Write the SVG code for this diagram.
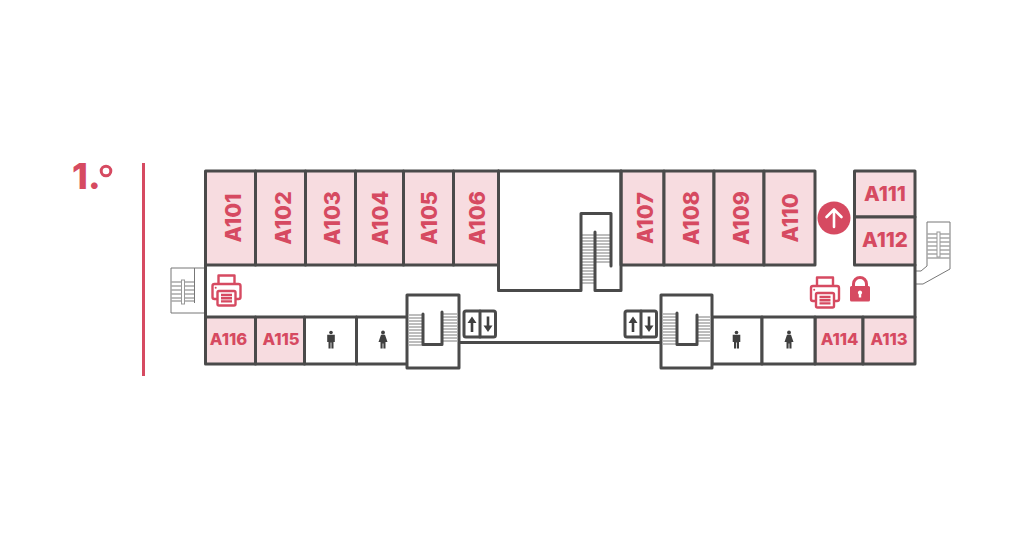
<svg xmlns="http://www.w3.org/2000/svg" width="1024" height="540" viewBox="0 0 1024 540">
<style>
.room{fill:#f7dce0;stroke:#4a4a4a;stroke-width:3;stroke-linejoin:round}
.plain{fill:#fff;stroke:#4a4a4a;stroke-width:3;stroke-linejoin:round}
.wall{fill:none;stroke:#4a4a4a;stroke-width:3;stroke-linejoin:round;stroke-linecap:round}
.thin{fill:none;stroke:#777;stroke-width:1}
.step{fill:none;stroke:#a8a8a8;stroke-width:1.3}
.lab{font-family:"Inter","Liberation Sans",sans-serif;font-weight:800;fill:#d64a61;text-anchor:middle}
.v{font-size:21.500px}.h{font-size:20.500px}.s{font-size:16.500px}
.ic{fill:none;stroke:#d64a61;stroke-width:2.400;stroke-linejoin:round}
.icf{fill:#d64a61}
.dk{fill:#3f3f3f}
</style>
<defs>
<g id="printer">
<path class="ic" d="M-8-6V-14.500H8V-6M-9 9H-12Q-14 9-14 7V-4Q-14-6-12-6H12Q14-6 14-4V7Q14 9 12 9H9"/>
<rect class="ic" x="-9" y="1" width="18" height="14.500" rx="1.500"/>
<path class="ic" stroke-width="1.600" d="M-5.500 5H5.500M-5.500 8.200H5.500M-5.500 11.400H5.500"/>
<circle class="icf" cx="-10.800" cy="-2.300" r="1"/>
</g>
<g id="man" class="dk">
<circle cx="0" cy="-7.500" r="1.800"/>
<path d="M-3.800-5.300H3.800V2H2.500V8.500H.4V2.500H-.4V8.500H-2.500V2H-3.800Z"/>
</g>
<g id="woman" class="dk">
<circle cx="0" cy="-7.500" r="1.900"/>
<path d="M-2-5.300H2L4.500 2H2.500V8.500H.4V3.500H-.4V8.500H-2.500V2H-4.500Z"/>
</g>
<g id="lift">
<rect class="plain" x="0" y="0" width="31.500" height="26" rx="2"/>
<path class="wall" d="M16 0V26"/>
<path class="dk" d="M8 5.500L12.500 12H9.300V21H6.700V12H3.500Z"/>
<path class="dk" d="M24 21L19.500 14.500H22.700V5.500H25.300V14.500H28.500Z"/>
</g>
</defs>

<g id="level">
<text x="72" y="189" font-family="Inter,'Liberation Sans',sans-serif" font-weight="800" font-size="36" fill="#d64a61">1.</text>
<circle cx="106" cy="171" r="4.800" fill="none" stroke="#d64a61" stroke-width="3"/>
<rect x="142" y="163" width="3" height="213" fill="#d64a61"/>
</g>

<g id="outer-stairs">
<path class="thin" d="M205 268H171V313H205M194.500 268V303"/>
<path class="step" d="M171 282H194M171 286H194M171 290H194M171 294H194M171 298H194M171 301H194"/>
<rect x="181.500" y="280" width="3" height="24" fill="#fff" stroke="#999" stroke-width="1"/>
<path class="thin" d="M915 271H921L927 266V222H950V269L923 284H915"/>
<path class="step" d="M927 234H950M927 238H950M927 242H950M927 246H950M927 250H950M927 254H950M927 258H950"/>
<rect x="937" y="232" width="3" height="25" fill="#fff" stroke="#999" stroke-width="1"/>
</g>

<g id="A101"><rect class="room" x="205.500" y="171" width="50" height="94"/><text class="lab v" transform="translate(241,218) rotate(-90)">A101</text></g>
<g id="A102"><rect class="room" x="255.500" y="171" width="50" height="94"/><text class="lab v" transform="translate(291,218) rotate(-90)">A102</text></g>
<g id="A103"><rect class="room" x="305.500" y="171" width="50" height="94"/><text class="lab v" transform="translate(340,218) rotate(-90)">A103</text></g>
<g id="A104"><rect class="room" x="355.500" y="171" width="48" height="94"/><text class="lab v" transform="translate(388,218) rotate(-90)">A104</text></g>
<g id="A105"><rect class="room" x="403.500" y="171" width="50" height="94"/><text class="lab v" transform="translate(437,218) rotate(-90)">A105</text></g>
<g id="A106"><rect class="room" x="453.500" y="171" width="45" height="94"/><text class="lab v" transform="translate(485,218) rotate(-90)">A106</text></g>
<g id="A107"><rect class="room" x="621" y="171" width="43" height="94"/><text class="lab v" transform="translate(652.500,218) rotate(-90)">A107</text></g>
<g id="A108"><rect class="room" x="664" y="171" width="50" height="94"/><text class="lab v" transform="translate(698.500,218) rotate(-90)">A108</text></g>
<g id="A109"><rect class="room" x="714" y="171" width="50" height="94"/><text class="lab v" transform="translate(749,218) rotate(-90)">A109</text></g>
<g id="A110"><rect class="room" x="764" y="171" width="51" height="94"/><text class="lab v" transform="translate(798,218) rotate(-90)">A110</text></g>
<g id="A111"><rect class="room" x="854.500" y="171" width="60.500" height="46"/><text class="lab h" x="885" y="201">A111</text></g>
<g id="A112"><rect class="room" x="854.500" y="217" width="60.500" height="48"/><text class="lab h" x="885" y="247">A112</text></g>
<g id="A116"><rect class="room" x="205.500" y="317" width="50" height="47"/><text class="lab s" x="228.500" y="345">A116</text></g>
<g id="A115"><rect class="room" x="255.500" y="317" width="49" height="47"/><text class="lab s" x="281" y="345">A115</text></g>
<g id="A114"><rect class="room" x="815" y="317" width="48" height="47"/><text class="lab s" x="839.500" y="345">A114</text></g>
<g id="A113"><rect class="room" x="863" y="317" width="52" height="47"/><text class="lab s" x="889" y="345">A113</text></g>

<g id="wc-men-1"><rect class="plain" x="304.500" y="317" width="52" height="47"/><use href="#man" x="331" y="340"/></g>
<g id="wc-women-1"><rect class="plain" x="356.500" y="317" width="51" height="47"/><use href="#woman" x="383" y="340"/></g>
<g id="wc-men-2"><rect class="plain" x="712" y="317" width="50" height="47"/><use href="#man" x="736.500" y="340"/></g>
<g id="wc-women-2"><rect class="plain" x="762" y="317" width="53" height="47"/><use href="#woman" x="789" y="340"/></g>

<g id="walls">
<path class="wall" d="M205.500 265V317M915 265V317M498.500 171H621M459 342.500H661"/>
</g>

<g id="stair-left">
<rect class="plain" x="407" y="295" width="52" height="73"/>
<path class="step" d="M408 315H423M408 318H423M408 321H423M408 324H423M408 327H423M408 330H423M408 333H423M408 336H423M408 339H423M408 342H423M408 345H423M442 314H458M442 317H458M442 320H458M442 323H458M442 326H458M442 329H458M442 332H458M442 335H458M442 338H458M442 341H458"/>
<path class="wall" d="M423 314V344.500H442V312"/>
</g>
<g id="stair-right">
<rect class="plain" x="661" y="295" width="51" height="73"/>
<path class="step" d="M662 314H677M662 317H677M662 320H677M662 323H677M662 326H677M662 329H677M662 332H677M662 335H677M662 338H677M662 341H677M662 344H677M697 317H711M697 320H711M697 323H711M697 326H711M697 329H711M697 332H711M697 335H711M697 338H711M697 341H711"/>
<path class="wall" d="M677 313V344.500H697V315"/>
</g>
<g id="stair-centre">
<path class="step" d="M582 235H610M582 238H610M582 241H610M582 244H610M582 247H610M582 250H610M582 253H610M582 256H610M582 259H610M582 262H610M582 265H595M582 268H595M582 271H595M582 274H595M582 277H595M582 280H595M582 283H595"/>
<path class="wall" d="M498.500 171V290.500H581V213.500H611V266M595 232V290.500H621V171"/>
</g>

<use id="lift-1" href="#lift" x="464" y="311"/>
<use id="lift-2" href="#lift" x="625" y="311"/>

<use id="printer-1" href="#printer" x="226.500" y="290"/>
<use id="printer-2" href="#printer" x="825" y="292"/>

<g id="up-arrow">
<circle cx="834" cy="218" r="16.500" fill="#d64a61"/>
<path d="M834 227V209.500M826.500 217L834 209.500L841.500 217" fill="none" stroke="#fff" stroke-width="2.600" stroke-linecap="round" stroke-linejoin="round"/>
</g>
<g id="lock">
<path d="M853.500 286V284A6.500 6.500 0 0 1 866.500 284V286" fill="none" stroke="#d64a61" stroke-width="3"/>
<path class="icf" fill-rule="evenodd" d="M851.500 286H868.500Q870 286 870 287.500V300Q870 301.500 868.500 301.500H851.500Q850 301.500 850 300V287.500Q850 286 851.500 286ZM860 290.500A2.200 2.200 0 0 0 858.800 294.500V297.500H861.200V294.500A2.200 2.200 0 0 0 860 290.500Z"/>
</g>
</svg>
